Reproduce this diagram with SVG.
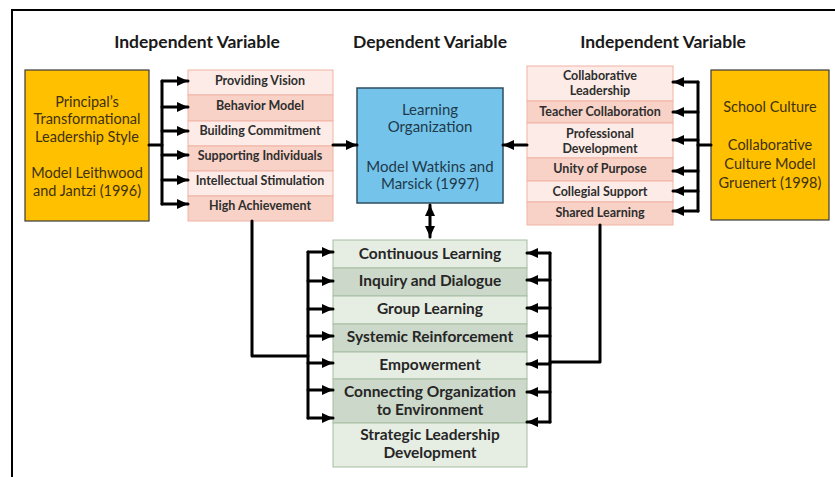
<svg xmlns="http://www.w3.org/2000/svg" width="835" height="477" viewBox="0 0 835 477">
  <style>
    text { font-family: Lato, "Open Sans", "Liberation Sans", sans-serif; text-anchor: middle; }
    .hdr { font-size: 17.5px; font-weight: bold; fill: #1a1a1a; }
    .main { fill: #FFC000; stroke: #3a3a3a; stroke-width: 1.2; }
    .mainTxt { font-size: 14.5px; fill: #3d3110; }
    .blue { fill: #74C3EA; stroke: #2c4d60; stroke-width: 1.5; }
    .blueTxt { font-size: 15px; fill: #1f3a4a; }
    .pinkA { fill: #FCEBE6; stroke: #F2B4A5; stroke-width: 1; }
    .pinkB { fill: #F8D2C7; stroke: #F2B4A5; stroke-width: 1; }
    .pinkTxt { font-size: 12.5px; font-weight: bold; fill: #2e2e2e; }
    .greenA { fill: #E6EEE4; stroke: #A6BDA2; stroke-width: 1; }
    .greenB { fill: #CCD8C9; stroke: #A6BDA2; stroke-width: 1; }
    .greenTxt { font-size: 15.5px; font-weight: bold; fill: #262626; }
    .wire { fill: none; stroke: #000; stroke-width: 3; stroke-linecap: round; stroke-linejoin: round; }
    .arr { marker-end: url(#head); }
  </style>
  <defs>
    <marker id="head" viewBox="0 0 11 10" refX="11" refY="5" markerWidth="11" markerHeight="10" markerUnits="userSpaceOnUse" orient="auto-start-reverse">
      <path d="M0,0 L11,5 L0,10 Z" fill="#000"/>
    </marker>
  </defs>

  <rect width="835" height="477" fill="#fff"/>
  <!-- outer frame -->
  <path d="M12,477 V10 H835" fill="none" stroke="#000" stroke-width="2"/>

  <!-- column headings -->
  <g id="headings">
    <text class="hdr" x="197" y="48">Independent Variable</text>
    <text class="hdr" x="430" y="48">Dependent Variable</text>
    <text class="hdr" x="663" y="48">Independent Variable</text>
  </g>

  <!-- transformational leadership -->
  <g id="transformational-leadership">
    <rect class="main" x="25" y="70" width="124" height="151"/>
    <text class="mainTxt" x="87" y="107">Principal’s</text>
    <text class="mainTxt" x="87" y="124">Transformational</text>
    <text class="mainTxt" x="87" y="142">Leadership Style</text>
    <text class="mainTxt" x="87" y="178">Model Leithwood</text>
    <text class="mainTxt" x="87" y="196">and Jantzi (1996)</text>
  </g>

  <g id="leadership-dimensions">
    <rect class="pinkA" x="188" y="70" width="145" height="25"/>
    <rect class="pinkB" x="188" y="95" width="145" height="26"/>
    <rect class="pinkA" x="188" y="121" width="145" height="25"/>
    <rect class="pinkB" x="188" y="146" width="145" height="25"/>
    <rect class="pinkA" x="188" y="171" width="145" height="25"/>
    <rect class="pinkB" x="188" y="196" width="145" height="25"/>
    <text class="pinkTxt" x="260" y="85">Providing Vision</text>
    <text class="pinkTxt" x="260" y="110">Behavior Model</text>
    <text class="pinkTxt" x="260" y="135">Building Commitment</text>
    <text class="pinkTxt" x="260" y="160">Supporting Individuals</text>
    <text class="pinkTxt" x="260" y="185">Intellectual Stimulation</text>
    <text class="pinkTxt" x="260" y="210">High Achievement</text>
  </g>

  <!-- learning organization -->
  <g id="learning-organization">
    <rect class="blue" x="357" y="88" width="146" height="115"/>
    <text class="blueTxt" x="430" y="115">Learning</text>
    <text class="blueTxt" x="430" y="132">Organization</text>
    <text class="blueTxt" x="430" y="172">Model Watkins and</text>
    <text class="blueTxt" x="430" y="189">Marsick (1997)</text>
  </g>

  <g id="culture-dimensions">
    <rect class="pinkA" x="527" y="66" width="146" height="35"/>
    <rect class="pinkB" x="527" y="101" width="146" height="22"/>
    <rect class="pinkA" x="527" y="123" width="146" height="35"/>
    <rect class="pinkB" x="527" y="158" width="146" height="23"/>
    <rect class="pinkA" x="527" y="181" width="146" height="21"/>
    <rect class="pinkB" x="527" y="202" width="146" height="23"/>
    <text class="pinkTxt" x="600" y="80">Collaborative</text>
    <text class="pinkTxt" x="600" y="95">Leadership</text>
    <text class="pinkTxt" x="600" y="116">Teacher Collaboration</text>
    <text class="pinkTxt" x="600" y="138">Professional</text>
    <text class="pinkTxt" x="600" y="153">Development</text>
    <text class="pinkTxt" x="600" y="173">Unity of Purpose</text>
    <text class="pinkTxt" x="600" y="196">Collegial Support</text>
    <text class="pinkTxt" x="600" y="217">Shared Learning</text>
  </g>

  <!-- school culture -->
  <g id="school-culture">
    <rect class="main" x="711" y="70" width="118" height="150"/>
    <text class="mainTxt" x="770" y="112">School Culture</text>
    <text class="mainTxt" x="770" y="150">Collaborative</text>
    <text class="mainTxt" x="770" y="169">Culture Model</text>
    <text class="mainTxt" x="770" y="188">Gruenert (1998)</text>
  </g>

  <!-- learning organization dimensions -->
  <g id="learning-dimensions">
    <rect class="greenA" x="333" y="240" width="194" height="28"/>
    <rect class="greenB" x="333" y="268" width="194" height="28"/>
    <rect class="greenA" x="333" y="296" width="194" height="28"/>
    <rect class="greenB" x="333" y="324" width="194" height="28"/>
    <rect class="greenA" x="333" y="352" width="194" height="27"/>
    <rect class="greenB" x="333" y="379" width="194" height="44"/>
    <rect class="greenA" x="333" y="423" width="194" height="44"/>
    <text class="greenTxt" x="430" y="259">Continuous Learning</text>
    <text class="greenTxt" x="430" y="286">Inquiry and Dialogue</text>
    <text class="greenTxt" x="430" y="314">Group Learning</text>
    <text class="greenTxt" x="430" y="342">Systemic Reinforcement</text>
    <text class="greenTxt" x="430" y="370">Empowerment</text>
    <text class="greenTxt" x="430" y="397">Connecting Organization</text>
    <text class="greenTxt" x="430" y="415">to Environment</text>
    <text class="greenTxt" x="430" y="440">Strategic Leadership</text>
    <text class="greenTxt" x="430" y="458">Development</text>
  </g>

  <!-- connectors -->
  <g id="connectors">
    <!-- left fan -->
    <path class="wire" d="M149,145 H162"/>
    <path class="wire" d="M162,81 V204"/>
    <path class="wire arr" d="M162,81 H188"/>
    <path class="wire arr" d="M162,107 H188"/>
    <path class="wire arr" d="M162,131 H188"/>
    <path class="wire arr" d="M162,155 H188"/>
    <path class="wire arr" d="M162,180 H188"/>
    <path class="wire arr" d="M162,204 H188"/>
    <!-- right fan -->
    <path class="wire" d="M711,145 H698"/>
    <path class="wire" d="M698,82 V211"/>
    <path class="wire arr" d="M698,82 H673"/>
    <path class="wire arr" d="M698,112 H673"/>
    <path class="wire arr" d="M698,140 H673"/>
    <path class="wire arr" d="M698,171 H673"/>
    <path class="wire arr" d="M698,191 H673"/>
    <path class="wire arr" d="M698,211 H673"/>
    <!-- into learning organization -->
    <path class="wire arr" d="M333,145 H357"/>
    <path class="wire arr" d="M527,145 H503"/>
    <path class="wire" d="M430,205 V237" marker-start="url(#head)" marker-end="url(#head)"/>
    <!-- lower left fan -->
    <path class="wire" d="M252,221 V356 H308"/>
    <path class="wire" d="M308,252 V418"/>
    <path class="wire arr" d="M308,252 H333"/>
    <path class="wire arr" d="M308,281 H333"/>
    <path class="wire arr" d="M308,309 H333"/>
    <path class="wire arr" d="M308,336 H333"/>
    <path class="wire arr" d="M308,363 H333"/>
    <path class="wire arr" d="M308,390 H333"/>
    <path class="wire arr" d="M308,418 H333"/>
    <!-- lower right fan -->
    <path class="wire" d="M600,225 V362 H550"/>
    <path class="wire" d="M550,253 V422"/>
    <path class="wire arr" d="M550,253 H527"/>
    <path class="wire arr" d="M550,280 H527"/>
    <path class="wire arr" d="M550,308 H527"/>
    <path class="wire arr" d="M550,336 H527"/>
    <path class="wire arr" d="M550,364 H527"/>
    <path class="wire arr" d="M550,392 H527"/>
    <path class="wire arr" d="M550,422 H527"/>
  </g>
</svg>
